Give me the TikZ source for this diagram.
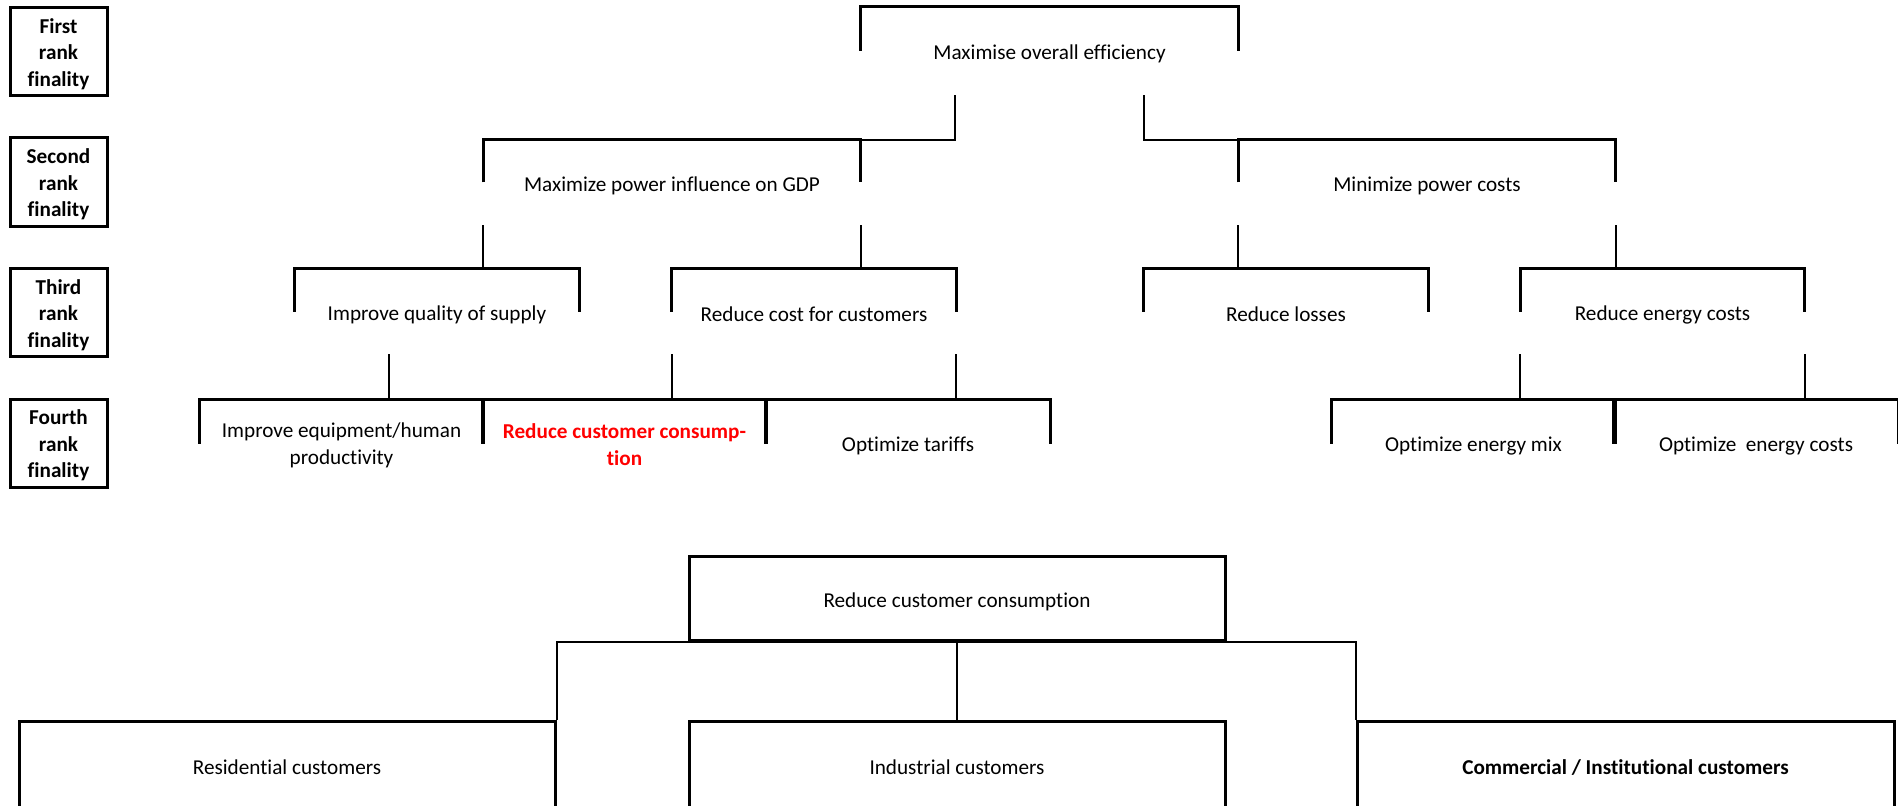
\documentclass[tikz,border=0pt]{standalone}
\usepackage{fontspec}
\setmainfont{Carlito}[Ligatures={NoCommon}, RawFeature={-clig}]
\usetikzlibrary{calc}
\begin{document}
\begin{tikzpicture}[x=0.75pt,y=-0.75pt,
  every node/.style={font=\fontsize{15.9pt}{19.9pt}\selectfont, inner sep=0pt, align=center},
  goal/.style={rectangle, draw=none, minimum height=64pt},
  wgoal/.style={goal, minimum width=283pt},
  ngoal/.style={goal, minimum width=213pt},
  bracketline/.style={line width=2.25pt},
  conn/.style={line width=1.5pt},
  boldtext/.style={font=\bfseries\fontsize{15.9pt}{19.9pt}\selectfont},
  rankbox/.style={draw, line width=2.25pt, minimum width=72.75pt, minimum height=66pt},
  custbox/.style={draw, line width=2.25pt, minimum width=402pt, minimum height=67.5pt}]
\useasboundingbox (0,0) rectangle (1898,806);
\clip (0,0) rectangle (1898,806);

% rank boxes
\node[rankbox] (r1) at (58.5,51.5) {};
\node[rankbox] (r2) at (58.5,182) {};
\node[rankbox] (r3) at (58.5,312.5) {};
\node[rankbox] (r4) at (58.5,443) {};
\node[boldtext] (r1t) at (58.5,54) {First\\rank\\finality};
\node[boldtext] (r2t) at (58.5,184.5) {Second\\rank\\finality};
\node[boldtext] (r3t) at (58.5,315) {Third\\rank\\finality};
\node[boldtext] (r4t) at (58.5,445.5) {Fourth\\rank\\finality};

% goal frames
\node[goal, minimum width=282.75pt, minimum height=66pt] (L1) at (1049.5,51) {};
\node[wgoal] (L2a) at (672,182.5) {};
\node[wgoal] (L2b) at (1427,182.5) {};
\node[ngoal] (L3a) at (437,311.5) {};
\node[ngoal] (L3b) at (814,311.5) {};
\node[ngoal] (L3c) at (1286,311.5) {};
\node[ngoal] (L3d) at (1662.5,311.5) {};
\node[ngoal, minimum height=65.25pt] (L4a) at (341.5,443.5) {};
\node[ngoal, minimum height=65.25pt] (L4b) at (624.5,443.5) {};
\node[ngoal, minimum height=65.25pt] (L4c) at (908,443.5) {};
\node[ngoal, minimum height=65.25pt] (L4d) at (1473.5,443.5) {};
\node[ngoal, minimum height=65.25pt] (L4e) at (1756,443.5) {};

% goal texts
\node (L1t) at (1049.5,54) {Maximise overall efficiency};
\node (L2at) at (672,185.5) {Maximize power influence on GDP};
\node (L2bt) at (1427,185.5) {Minimize power costs};
\node (L3at) at (437,314.5) {Improve quality of supply};
\node (L3bt) at (814,314.5) {Reduce cost for customers};
\node (L3ct) at (1286,314.5) {Reduce losses};
\node (L3dt) at (1662.5,314.5) {Reduce energy costs};
\node (L4at) at (341.5,445.5) {Improve equipment/human\\productivity};
\node[boldtext, text=red] (L4bt) at (624.5,444.5) {Reduce customer consump-\\tion};
\node (L4ct) at (908,446) {Optimize tariffs};
\node (L4dt) at (1473.5,446) {Optimize energy mix};
\node (L4et) at (1756,446) {Optimize~ energy costs};

% brackets (upper half of each goal box)
\foreach \n in {L1,L2a,L2b,L3a,L3b,L3c,L3d,L4a,L4b,L4c,L4d,L4e}
  \draw[bracketline] (\n.west) -- (\n.north west) -- (\n.north east) -- (\n.east);

% connectors
\draw[conn] ($(L1.south west)!0.25!(L1.south east)$) |- (L2a.north east);
\draw[conn] ($(L1.south west)!0.75!(L1.south east)$) |- (L2b.north west);
\draw[conn] (L2a.south west) -- (L2a.south west |- L3a.north);
\draw[conn] (L2a.south east) -- (L2a.south east |- L3b.north);
\draw[conn] (L2b.south west) -- (L2b.south west |- L3c.north);
\draw[conn] (L2b.south east) -- (L2b.south east |- L3d.north);
\coordinate (qa) at ($(L3a.south west)!0.33!(L3a.south east)$);
\draw[conn] (qa) -- (qa |- L4a.north);
\draw[conn] (L3b.south west) -- (L3b.south west |- L4b.north);
\draw[conn] (L3b.south east) -- (L3b.south east |- L4c.north);
\draw[conn] (L3d.south west) -- (L3d.south west |- L4d.north);
\draw[conn] (L3d.south east) -- (L3d.south east |- L4e.north);

% lower diagram
\node[custbox, minimum height=63pt] (rcc) at (957,598) {};
\node (rcct) at (957,601.5) {Reduce customer consumption};
\node[custbox] (res) at (287,766) {};
\node[custbox] (ind) at (957,766) {};
\node[custbox, minimum width=402.75pt] (com) at (1625.5,766) {};
\node (rest) at (287,767.5) {Residential customers};
\node (indt) at (957,767.5) {Industrial customers};
\node[boldtext] (comt) at (1625.5,767.5) {Commercial / Institutional customers};
\draw[conn] (rcc.south) -- (ind.north);
\draw[conn] (rcc.south) -| (res.north east);
\draw[conn] (rcc.south) -| (com.north west);
\end{tikzpicture}
\end{document}
